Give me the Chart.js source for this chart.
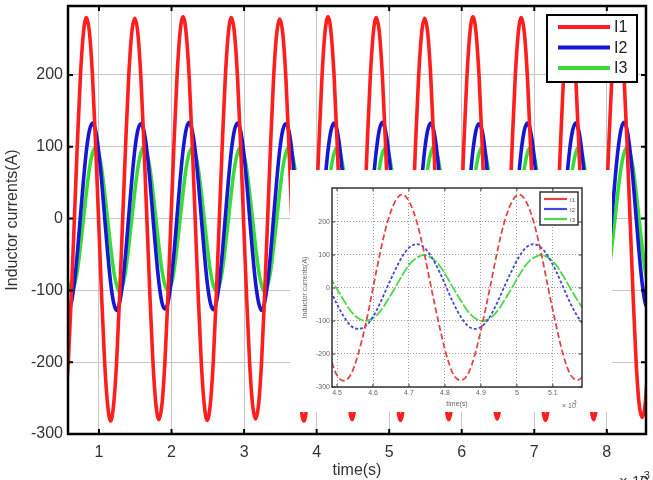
<!DOCTYPE html>
<html>
<head>
<meta charset="utf-8">
<script src="https://cdn.jsdelivr.net/npm/chart.js@4.4.1/dist/chart.umd.min.js"></script>
<style>
  html, body { margin: 0; padding: 0; background: #fff; }
  #wrap { position: relative; width: 653px; height: 480px; overflow: hidden; }
  #mainChart { position: absolute; left: 0; top: 0; }
  #insetBox { position: absolute; left: 290px; top: 170px; width: 322px; height: 242px; background: #fff; }
</style>
</head>
<body>
<div id="wrap">
  <canvas id="mainChart" width="653" height="480"></canvas>
  <div id="insetBox"><canvas id="insetChart" width="322" height="242"></canvas></div>
</div>
<script>
// main plot, time in ms (axis shows x10^-3 s)
const time = [
  0.536, 0.578, 0.619, 0.661, 0.703, 0.744, 0.786, 0.827, 0.869, 0.911, 0.952, 0.994, 1.036, 1.077, 1.119, 1.160,
  1.202, 1.244, 1.285, 1.327, 1.369, 1.410, 1.452, 1.493, 1.535, 1.577, 1.618, 1.660, 1.702, 1.743, 1.785, 1.826,
  1.868, 1.910, 1.951, 1.993, 2.035, 2.076, 2.118, 2.159, 2.201, 2.243, 2.284, 2.326, 2.368, 2.409, 2.451, 2.492,
  2.534, 2.576, 2.617, 2.659, 2.701, 2.742, 2.784, 2.825, 2.867, 2.909, 2.950, 2.992, 3.034, 3.075, 3.117, 3.158,
  3.200, 3.242, 3.283, 3.325, 3.367, 3.408, 3.450, 3.491, 3.533, 3.575, 3.616, 3.658, 3.700, 3.741, 3.783, 3.824,
  3.866, 3.908, 3.949, 3.991, 4.033, 4.074, 4.116, 4.157, 4.199, 4.241, 4.282, 4.324, 4.366, 4.407, 4.449, 4.490,
  4.532, 4.574, 4.615, 4.657, 4.699, 4.740, 4.782, 4.823, 4.865, 4.907, 4.948, 4.990, 5.032, 5.073, 5.115, 5.156,
  5.198, 5.240, 5.281, 5.323, 5.365, 5.406, 5.448, 5.489, 5.531, 5.573, 5.614, 5.656, 5.698, 5.739, 5.781, 5.822,
  5.864, 5.906, 5.947, 5.989, 6.031, 6.072, 6.114, 6.155, 6.197, 6.239, 6.280, 6.322, 6.364, 6.405, 6.447, 6.488,
  6.530, 6.572, 6.613, 6.655, 6.697, 6.738, 6.780, 6.821, 6.863, 6.905, 6.946, 6.988, 7.030, 7.071, 7.113, 7.154,
  7.196, 7.238, 7.279, 7.321, 7.363, 7.404, 7.446, 7.487, 7.529, 7.571, 7.612, 7.654, 7.696, 7.737, 7.779, 7.820,
  7.862, 7.904, 7.945, 7.987, 8.029, 8.070, 8.112, 8.153, 8.195, 8.237, 8.278, 8.320, 8.362, 8.403, 8.445, 8.486,
  8.528, 8.570
];
const i1 = [
  -259, -198, -107, 0, 107, 198, 259, 280, 259, 198, 107, 0, -107, -198, -259, -282,
  -259, -198, -107, 0, 107, 198, 259, 279, 259, 198, 107, 0, -107, -198, -259, -280,
  -259, -198, -107, 0, 107, 198, 260, 281, 259, 198, 107, 0, -107, -198, -259, -281,
  -259, -198, -107, 0, 107, 198, 259, 280, 259, 198, 107, 0, -107, -198, -259, -279,
  -259, -198, -107, 0, 107, 198, 258, 278, 258, 198, 107, 0, -107, -198, -260, -282,
  -259, -198, -107, 0, 107, 198, 260, 281, 259, 198, 107, 0, -107, -198, -259, -280,
  -259, -198, -107, 0, 107, 198, 259, 280, 259, 198, 107, 0, -107, -198, -259, -281,
  -259, -198, -107, 0, 107, 198, 259, 279, 259, 198, 107, 0, -107, -198, -259, -280,
  -259, -198, -107, 0, 107, 198, 260, 281, 259, 198, 107, 0, -107, -198, -259, -279,
  -259, -198, -107, 0, 107, 198, 259, 280, 259, 198, 107, 0, -107, -198, -259, -281,
  -259, -198, -107, 0, 107, 198, 259, 279, 259, 198, 107, 0, -107, -198, -259, -280,
  -259, -198, -107, 0, 107, 198, 259, 280, 259, 198, 107, 0, -107, -198, -258, -277,
  -259, -198
];
const i2 = [
  -117, -127, -117, -89, -47, 3, 53, 95, 123, 133, 123, 95, 53, 3, -47, -89,
  -117, -128, -117, -89, -47, 3, 53, 95, 123, 132, 123, 95, 53, 3, -47, -89,
  -117, -126, -117, -89, -47, 3, 53, 95, 124, 134, 123, 95, 53, 3, -47, -89,
  -117, -127, -117, -89, -47, 3, 53, 95, 123, 133, 123, 95, 53, 3, -47, -89,
  -117, -128, -117, -89, -47, 3, 53, 95, 123, 132, 123, 95, 53, 3, -47, -89,
  -117, -127, -117, -89, -47, 3, 53, 95, 123, 133, 123, 95, 53, 3, -47, -89,
  -117, -126, -117, -89, -47, 3, 53, 95, 124, 134, 123, 95, 53, 3, -47, -89,
  -117, -127, -117, -89, -47, 3, 53, 95, 123, 133, 123, 95, 53, 3, -47, -89,
  -117, -128, -117, -89, -47, 3, 53, 95, 123, 132, 123, 95, 53, 3, -47, -89,
  -117, -127, -117, -89, -47, 3, 53, 95, 123, 133, 123, 95, 53, 3, -47, -89,
  -117, -126, -117, -89, -47, 3, 53, 95, 123, 133, 123, 95, 53, 3, -47, -89,
  -117, -127, -117, -89, -47, 3, 53, 95, 124, 134, 124, 95, 53, 3, -47, -89,
  -117, -127
];
const i3 = [
  -72, -93, -101, -93, -72, -39, -1, 37, 70, 91, 99, 91, 70, 37, -1, -39,
  -72, -93, -102, -93, -72, -39, -1, 37, 70, 91, 100, 91, 70, 37, -1, -39,
  -72, -93, -100, -93, -72, -39, -1, 37, 70, 91, 98, 91, 70, 37, -1, -39,
  -72, -93, -101, -93, -72, -39, -1, 37, 70, 91, 99, 91, 70, 37, -1, -39,
  -72, -93, -102, -93, -72, -39, -1, 37, 70, 91, 100, 91, 70, 37, -1, -39,
  -72, -93, -101, -93, -72, -39, -1, 37, 70, 91, 99, 91, 70, 37, -1, -39,
  -72, -93, -100, -93, -72, -39, -1, 37, 70, 91, 98, 91, 70, 37, -1, -39,
  -72, -93, -102, -93, -72, -39, -1, 37, 70, 91, 100, 91, 70, 37, -1, -39,
  -72, -93, -101, -93, -72, -39, -1, 37, 70, 91, 99, 91, 70, 37, -1, -39,
  -72, -93, -101, -93, -72, -39, -1, 37, 70, 91, 99, 91, 70, 37, -1, -39,
  -72, -93, -100, -93, -72, -39, -1, 37, 70, 91, 100, 91, 70, 37, -1, -39,
  -72, -93, -102, -93, -72, -39, -1, 37, 70, 91, 99, 91, 70, 37, -1, -39,
  -72, -93
];
const xTicks = [1, 2, 3, 4, 5, 6, 7, 8];
const yTicks = [-300, -200, -100, 0, 100, 200];
const seriesNames = ["I1", "I2", "I3"];

// inset (zoomed window)
const insetTime = [
  4.478, 4.498, 4.519, 4.539, 4.559, 4.580, 4.600, 4.620, 4.640, 4.661, 4.681, 4.701,
  4.722, 4.742, 4.762, 4.783, 4.803, 4.823, 4.844, 4.864, 4.884, 4.904, 4.925, 4.945,
  4.965, 4.986, 5.006, 5.026, 5.047, 5.067, 5.087, 5.108, 5.128, 5.148, 5.169, 5.189
];
const insetI1 = [
  -199, -261, -281, -261, -199, -108, 0, 108, 199, 261, 284, 261,
  199, 108, 0, -108, -199, -261, -280, -261, -199, -108, 0, 108,
  199, 261, 283, 261, 199, 108, 0, -108, -199, -261, -279, -261
];
const insetI2 = [
  4, -45, -87, -115, -124, -115, -87, -45, 4, 53, 95, 123,
  133, 123, 95, 53, 4, -45, -87, -115, -124, -115, -87, -45,
  4, 53, 95, 123, 133, 123, 95, 53, 4, -45, -87, -115
];
const insetI3 = [
  38, 0, -38, -71, -92, -100, -92, -71, -38, 0, 38, 71,
  92, 100, 92, 71, 38, 0, -38, -71, -92, -100, -92, -71,
  -38, 0, 38, 71, 92, 100, 92, 71, 38, 0, -38, -71
];
const insetXTicks = [4.5, 4.6, 4.7, 4.8, 4.9, 5.0, 5.1];
const insetYTicks = [-300, -200, -100, 0, 100, 200];

const FONT = "'Liberation Sans', Arial, sans-serif";

function points(ts, vs) {
    return ts.map((t, k) => ({ x: t, y: vs[k] }));
}

function fixTicks(list) {
    return scale => { scale.ticks = list.map(v => ({ value: v })); };
}

// frame, inward ticks, boxed legend and exponent label (MATLAB look)
function matlabFrame(opt) {
    return {
        id: "matlabFrame",
        afterDraw(chart) {
            const { ctx, chartArea: a, scales: { x, y } } = chart;
            ctx.save();
            ctx.strokeStyle = opt.frameColor;
            ctx.lineWidth = opt.tickWidth;
            ctx.beginPath();
            opt.xTicks.forEach(v => {
                const px = x.getPixelForValue(v);
                ctx.moveTo(px, a.bottom); ctx.lineTo(px, a.bottom - opt.tickLen);
                ctx.moveTo(px, a.top); ctx.lineTo(px, a.top + opt.tickLen);
            });
            opt.yTicks.forEach(v => {
                const py = y.getPixelForValue(v);
                ctx.moveTo(a.left, py); ctx.lineTo(a.left + opt.tickLen, py);
                ctx.moveTo(a.right, py); ctx.lineTo(a.right - opt.tickLen, py);
            });
            ctx.stroke();
            ctx.lineWidth = opt.frameWidth;
            ctx.strokeRect(a.left, a.top, a.right - a.left, a.bottom - a.top);

            // legend
            const L = opt.legend;
            ctx.fillStyle = "#fff";
            ctx.fillRect(L.x, L.y, L.w, L.h);
            ctx.lineWidth = L.border;
            ctx.strokeRect(L.x, L.y, L.w, L.h);
            ctx.font = L.font;
            ctx.textBaseline = "middle";
            chart.data.datasets.forEach((ds, k) => {
                const ly = L.y + L.first + k * L.step;
                ctx.strokeStyle = ds.borderColor;
                ctx.lineWidth = L.lineWidth;
                ctx.setLineDash([]);
                ctx.beginPath();
                ctx.moveTo(L.x + L.lineFrom, ly);
                ctx.lineTo(L.x + L.lineTo, ly);
                ctx.stroke();
                ctx.fillStyle = L.textColor;
                ctx.fillText(ds.label, L.x + L.textX, ly + 1);
            });

            // x 10^-3
            const E = opt.exponent;
            ctx.fillStyle = E.color;
            ctx.textBaseline = "alphabetic";
            ctx.font = E.font;
            ctx.fillText("\u00d7 10", E.x, E.y);
            ctx.font = E.supFont;
            ctx.fillText("-3", E.supX, E.supY);
            ctx.restore();
        }
    };
}

const mainChart = new Chart(document.getElementById("mainChart"), {
    type: "line",
    data: {
        datasets: [
            { label: seriesNames[0], data: points(time, i1), borderColor: "#ff1e1e" },
            { label: seriesNames[1], data: points(time, i2), borderColor: "#1616d6" },
            { label: seriesNames[2], data: points(time, i3), borderColor: "#38dc38" }
        ]
    },
    options: {
        responsive: false,
        animation: false,
        devicePixelRatio: 1,
        layout: { padding: { left: 0, right: 7, top: 6, bottom: 0 } },
        elements: {
            point: { radius: 0 },
            line: { borderWidth: 3.6, cubicInterpolationMode: "monotone", borderCapStyle: "round", borderJoinStyle: "round" }
        },
        plugins: { legend: { display: false }, tooltip: { enabled: false } },
        scales: {
            x: {
                type: "linear",
                min: 0.573,
                max: 8.54,
                afterBuildTicks: fixTicks(xTicks),
                afterFit: s => { s.height = 46; s.paddingLeft = 0; s.paddingRight = 0; },
                grid: { color: "#c6c6c6", lineWidth: 1, drawTicks: false },
                border: { display: false },
                ticks: { padding: 9, color: "#333", font: { family: FONT, size: 16 }, callback: v => String(v) },
                title: { display: true, text: "time(s)", color: "#333", font: { family: FONT, size: 16 }, padding: { top: 0, bottom: 0 } }
            },
            y: {
                type: "linear",
                min: -300,
                max: 296,
                afterBuildTicks: fixTicks(yTicks),
                afterFit: s => { s.width = 68; s.paddingTop = 0; s.paddingBottom = 0; },
                grid: { color: "#c6c6c6", lineWidth: 1, drawTicks: false },
                border: { display: false },
                ticks: { padding: 5, color: "#333", font: { family: FONT, size: 16 }, callback: v => String(v) },
                title: { display: true, text: "Inductor currents(A)", color: "#333", font: { family: FONT, size: 16 }, padding: { top: 3, bottom: 0 } }
            }
        }
    },
    plugins: [matlabFrame({
        xTicks, yTicks,
        frameColor: "#000", frameWidth: 2.5, tickWidth: 2, tickLen: 5,
        legend: { x: 547, y: 15, w: 90, h: 67, border: 2, first: 12, step: 20.5, lineFrom: 11, lineTo: 63, lineWidth: 4, textX: 67, font: "16px " + FONT, textColor: "#222" },
        exponent: { color: "#333", font: "15px " + FONT, x: 619, y: 486, supFont: "11px " + FONT, supX: 640, supY: 479 }
    })]
});

const insetChart = new Chart(document.getElementById("insetChart"), {
    type: "line",
    data: {
        datasets: [
            { label: seriesNames[0], data: points(insetTime, insetI1), borderColor: "#e04646", borderDash: [6, 3] },
            { label: seriesNames[1], data: points(insetTime, insetI2), borderColor: "#4848d4", borderDash: [3, 2] },
            { label: seriesNames[2], data: points(insetTime, insetI3), borderColor: "#4cd84c", borderDash: [10, 2] }
        ]
    },
    options: {
        responsive: false,
        animation: false,
        devicePixelRatio: 1,
        layout: { padding: { left: 0, right: 30, top: 18, bottom: 0 } },
        elements: {
            point: { radius: 0 },
            line: { borderWidth: 1.8, cubicInterpolationMode: "monotone" }
        },
        plugins: { legend: { display: false }, tooltip: { enabled: false } },
        scales: {
            x: {
                type: "linear",
                min: 4.486,
                max: 5.181,
                afterBuildTicks: fixTicks(insetXTicks),
                afterFit: s => { s.height = 25; s.paddingLeft = 0; s.paddingRight = 0; },
                grid: { color: "#9a9a9a", lineWidth: 1, drawTicks: false },
                border: { display: false, dash: [1, 2] },
                ticks: { padding: 2, color: "#666", font: { family: FONT, size: 7 }, callback: v => String(+v.toFixed(1)) },
                title: { display: true, text: "time(s)", color: "#666", font: { family: FONT, size: 7 }, padding: { top: 0, bottom: 4 } }
            },
            y: {
                type: "linear",
                min: -300,
                max: 303,
                afterBuildTicks: fixTicks(insetYTicks),
                afterFit: s => { s.width = 42; s.paddingTop = 0; s.paddingBottom = 0; },
                grid: { color: "#9a9a9a", lineWidth: 1, drawTicks: false },
                border: { display: false, dash: [1, 2] },
                ticks: { padding: 2, color: "#666", font: { family: FONT, size: 7 }, callback: v => String(v) },
                title: { display: true, text: "Inductor currents(A)", color: "#666", font: { family: FONT, size: 7 }, padding: { top: 11, bottom: 0 } }
            }
        }
    },
    plugins: [matlabFrame({
        xTicks: insetXTicks, yTicks: insetYTicks,
        frameColor: "#333", frameWidth: 1.5, tickWidth: 1, tickLen: 3,
        legend: { x: 250, y: 22, w: 38, h: 33, border: 1.5, first: 7, step: 10, lineFrom: 4, lineTo: 27, lineWidth: 2.2, textX: 30, font: "6px " + FONT, textColor: "#555" },
        exponent: { color: "#666", font: "7px " + FONT, x: 272, y: 238, supFont: "5px " + FONT, supX: 282, supY: 234 }
    })]
});
</script>
</body>
</html>
